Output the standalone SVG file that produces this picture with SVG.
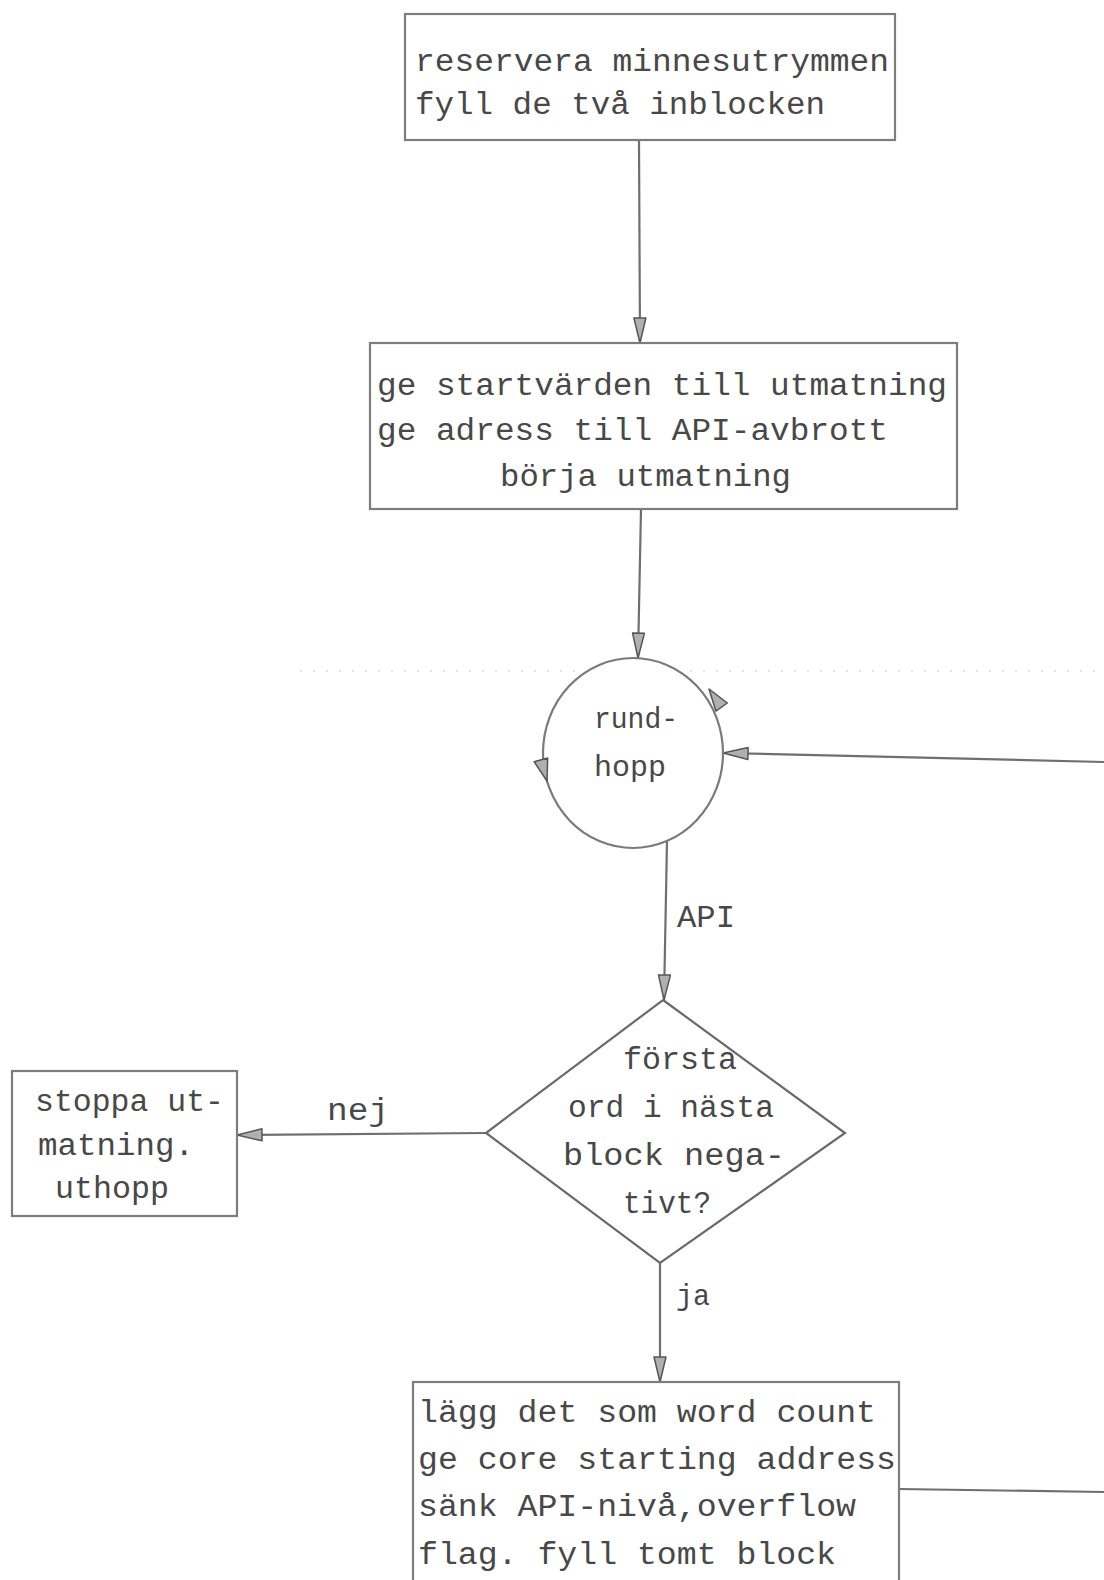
<svg xmlns="http://www.w3.org/2000/svg" width="1104" height="1580" viewBox="0 0 1104 1580">
<style>
.box{fill:#fff;stroke:#7d7d7d;stroke-width:2.2}
.t{font-family:"Liberation Mono","DejaVu Sans Mono",monospace;font-size:31px;fill:#484848}
.s{font-size:30px}
.ln{fill:none;stroke:#6f6f6f;stroke-width:2.2}
.ah{fill:#b0b0b0;stroke:#555;stroke-width:1.5;stroke-linejoin:round}
</style>
<defs>
<marker id="arr" viewBox="0 0 26 14" refX="26" refY="7" markerWidth="26" markerHeight="14" orient="auto" markerUnits="userSpaceOnUse">
<path d="M1,1 L26,7 L1,13 Z" class="ah"/>
</marker>
</defs>
<rect width="1104" height="1580" fill="#fff"/>
<line x1="300" y1="671" x2="1104" y2="671" stroke="#c8c8c8" stroke-width="1.2" stroke-dasharray="2 11"/>
<g id="connectors">
<line class="ln" x1="639" y1="141" x2="640" y2="343" marker-end="url(#arr)"/>
<line class="ln" x1="641" y1="509" x2="638" y2="658" marker-end="url(#arr)"/>
<line class="ln" x1="1104" y1="762" x2="723" y2="753" marker-end="url(#arr)"/>
<line class="ln" x1="667" y1="841" x2="664" y2="1000" marker-end="url(#arr)"/>
<line class="ln" x1="486" y1="1133" x2="237" y2="1135" marker-end="url(#arr)"/>
<line class="ln" x1="660" y1="1263" x2="660" y2="1382" marker-end="url(#arr)"/>
<line class="ln" x1="899" y1="1489" x2="1104" y2="1492"/>
<text class="t" x="677" y="927" textLength="58" lengthAdjust="spacingAndGlyphs">API</text>
<text class="t" x="327" y="1120" textLength="62" lengthAdjust="spacingAndGlyphs">nej</text>
<text class="t s" x="676" y="1305" textLength="34" lengthAdjust="spacingAndGlyphs">ja</text>
</g>
<g id="box1">
<rect class="box" x="405" y="14" width="490" height="126"/>
<text class="t" x="415" y="71" textLength="474" lengthAdjust="spacingAndGlyphs">reservera minnesutrymmen</text>
<text class="t" x="415" y="114" textLength="410" lengthAdjust="spacingAndGlyphs">fyll de två inblocken</text>
</g>
<g id="box2">
<rect class="box" x="370" y="343" width="587" height="166"/>
<text class="t" x="377" y="395" textLength="570" lengthAdjust="spacingAndGlyphs">ge startvärden till utmatning</text>
<text class="t" x="377" y="440" textLength="511" lengthAdjust="spacingAndGlyphs">ge adress till API-avbrott</text>
<text class="t" x="500" y="486" textLength="291" lengthAdjust="spacingAndGlyphs">börja utmatning</text>
</g>
<g id="rundhopp">
<ellipse cx="633" cy="753" rx="90" ry="95" fill="#fff" stroke="#7a7a7a" stroke-width="2.2"/>
<path class="ah" transform="translate(709,689) rotate(-125)" d="M0,0 L-22,-7 L-22,7 Z"/>
<path class="ah" transform="translate(547,781) rotate(74)" d="M0,0 L-22,-7 L-22,7 Z"/>
<text class="t s" x="594" y="728" textLength="84" lengthAdjust="spacingAndGlyphs">rund-</text>
<text class="t s" x="594" y="776" textLength="72" lengthAdjust="spacingAndGlyphs">hopp</text>
</g>
<g id="decision">
<polygon points="663,1000 845,1133 660,1263 486,1133" fill="#fff" stroke="#6a6a6a" stroke-width="2.2"/>
<text class="t" x="623" y="1069" textLength="114" lengthAdjust="spacingAndGlyphs">första</text>
<text class="t" x="568" y="1117" textLength="206" lengthAdjust="spacingAndGlyphs">ord i nästa</text>
<text class="t" x="563" y="1165" textLength="222" lengthAdjust="spacingAndGlyphs">block nega-</text>
<text class="t" x="623" y="1213" textLength="88" lengthAdjust="spacingAndGlyphs">tivt?</text>
</g>
<g id="stop">
<rect class="box" x="12" y="1071" width="225" height="145"/>
<text class="t" x="35" y="1111" textLength="189" lengthAdjust="spacingAndGlyphs">stoppa ut-</text>
<text class="t" x="38" y="1155" textLength="156" lengthAdjust="spacingAndGlyphs">matning.</text>
<text class="t" x="55" y="1198" textLength="114" lengthAdjust="spacingAndGlyphs">uthopp</text>
</g>
<g id="box3">
<rect class="box" x="413" y="1382" width="486" height="220"/>
<text class="t" x="418" y="1422" textLength="458" lengthAdjust="spacingAndGlyphs">lägg det som word count</text>
<text class="t" x="418" y="1469" textLength="478" lengthAdjust="spacingAndGlyphs">ge core starting address</text>
<text class="t" x="418" y="1516" textLength="438" lengthAdjust="spacingAndGlyphs">sänk API-nivå,overflow</text>
<text class="t" x="418" y="1564" textLength="418" lengthAdjust="spacingAndGlyphs">flag. fyll tomt block</text>
</g>
</svg>
